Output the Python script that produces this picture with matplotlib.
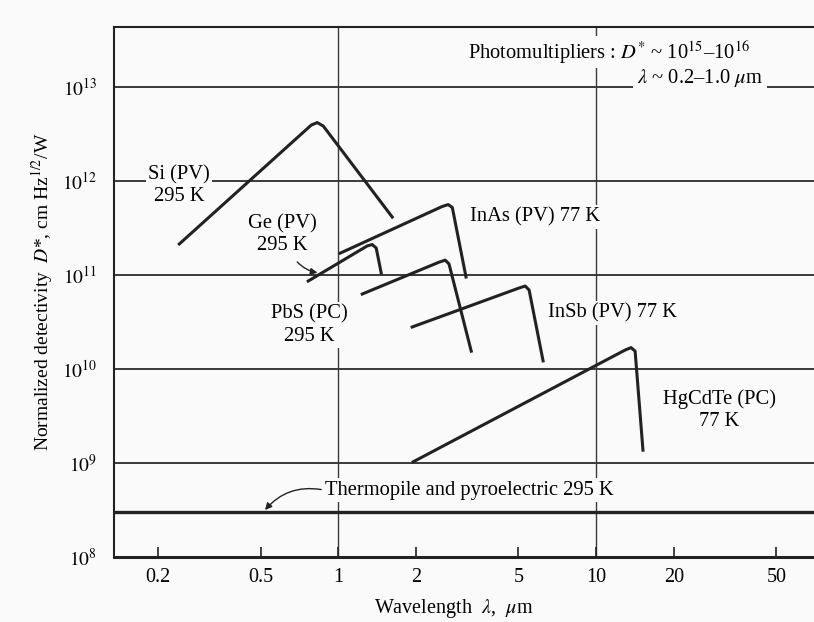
import math
import matplotlib
matplotlib.use("Agg")
import matplotlib.pyplot as plt
from matplotlib.ticker import FixedLocator, FuncFormatter, NullLocator

plt.rcParams['font.family'] = ['Liberation Serif', 'DejaVu Serif']
plt.rcParams['mathtext.fontset'] = 'stix'

# wavelength (um) / detectivity D* (cm Hz^1/2 / W)
si_wl = [0.242, 0.786, 0.829, 0.875, 1.62]
si_d = [2.14e11, 3.94e12, 4.19e12, 3.85e12, 4.14e11]

ge_wl = [0.765, 1.295, 1.354, 1.404, 1.468]
ge_d = [8.63e10, 2.04e11, 2.11e11, 1.94e11, 1.05e11]

inas_wl = [1.018, 2.53, 2.67, 2.77, 3.13]
inas_d = [1.71e11, 5.36e11, 5.62e11, 5.23e11, 9.53e10]

pbs_wl = [1.239, 2.46, 2.60, 2.69, 3.28]
pbs_d = [6.28e10, 1.37e11, 1.44e11, 1.31e11, 1.55e10]

insb_wl = [1.935, 5.03, 5.31, 5.50, 6.23]
insb_d = [2.80e10, 7.28e10, 7.64e10, 6.92e10, 1.22e10]

hgcdte_wl = [1.953, 12.95, 13.67, 14.17, 15.2]
hgcdte_d = [1.03e9, 1.59e10, 1.69e10, 1.55e10, 1.37e9]

thermopile_d = 3.0e8

xticks = [0.2, 0.5, 1, 2, 5, 10, 20, 50]
xticklabels = ['0.2', '0.5', '1', '2', '5', '10', '20', '50']
ydecades = [8, 9, 10, 11, 12, 13]

bg = '#fafafa'
ink = '#222222'

fig = plt.figure(figsize=(8.14, 6.22), dpi=100, facecolor=bg)
ax = fig.add_axes([0.140, 0.1045, 0.860, 0.852], facecolor=bg)
ax.set_xscale('log')
ax.set_yscale('log')
ax.set_xlim(0.135, 70)
ax.set_ylim(1e8, 4.35e13)

# grid: horizontal at each decade, vertical only at 1 and 10
for e in ydecades[1:]:
    ax.axhline(10.0 ** e, color='#3a3a3a', lw=1.4, zorder=1)
for v in [1, 10]:
    ax.axvline(v, color='#3a3a3a', lw=1.0, zorder=1)

ax.axhline(thermopile_d, color=ink, lw=2.4, zorder=2)

for wl, d in [(si_wl, si_d), (ge_wl, ge_d), (inas_wl, inas_d),
              (pbs_wl, pbs_d), (insb_wl, insb_d), (hgcdte_wl, hgcdte_d)]:
    ax.plot(wl, d, color=ink, lw=2.2, solid_joinstyle='round', zorder=2)

box = dict(facecolor=bg, edgecolor='none', pad=1.5)
fs = 14.8

ax.text(0.242, 9.0e11, 'Si (PV)\n295 K', ha='center', va='center', fontsize=fs, bbox=box)
ax.text(0.606, 2.7e11, 'Ge (PV)\n295 K', ha='center', va='center', fontsize=fs, bbox=box)
ax.annotate('', xy=(0.852, 1.05e11), xytext=(0.682, 1.45e11),
            arrowprops=dict(arrowstyle='-|>', color=ink, lw=1.0, mutation_scale=10,
                            connectionstyle='arc3,rad=0.2'))
ax.text(3.25, 4.14e11, 'InAs (PV) 77 K', ha='left', va='center', fontsize=fs, bbox=box)
ax.text(0.772, 2.94e10, 'PbS (PC)\n295 K', ha='center', va='center', fontsize=fs, bbox=box)
ax.text(6.52, 3.94e10, 'InSb (PV) 77 K', ha='left', va='center', fontsize=fs, bbox=box)
ax.text(30.0, 3.66e9, 'HgCdTe (PC)\n77 K', ha='center', va='center', fontsize=fs, bbox=box)
ax.text(0.89, 5.16e8, 'Thermopile and pyroelectric 295 K', ha='left', va='center',
        fontsize=fs, bbox=box)
ax.annotate('', xy=(0.512, thermopile_d), xytext=(0.88, 5.16e8),
            arrowprops=dict(arrowstyle='-|>', color=ink, lw=1.0, mutation_scale=10,
                            connectionstyle='arc3,rad=0.3'))
ax.text(3.19, 2.36e13, r'Photomultipliers : $D^{*}$ ~ 10$^{15}$–10$^{16}$',
        ha='left', va='center', fontsize=fs, bbox=box)
ax.text(14.4, 1.25e13, r'$\lambda$ ~ 0.2–1.0 $\mu$m', ha='left', va='center',
        fontsize=fs, bbox=dict(facecolor=bg, edgecolor='none', pad=3))

# axes frame
ax.spines['right'].set_visible(False)
ax.spines['top'].set_linewidth(1.5)
ax.spines['left'].set_linewidth(1.5)
ax.spines['bottom'].set_linewidth(2.2)
for s in ax.spines.values():
    s.set_color(ink)

ax.xaxis.set_major_locator(FixedLocator(xticks))
ax.xaxis.set_major_formatter(FuncFormatter(
    lambda v, p: xticklabels[xticks.index(v)] if v in xticks else ''))
ax.xaxis.set_minor_locator(NullLocator())
ax.yaxis.set_major_locator(FixedLocator([10.0 ** e for e in ydecades]))
ax.yaxis.set_major_formatter(FuncFormatter(lambda v, p: r'$10^{%d}$' % round(math.log10(v))))
ax.yaxis.set_minor_locator(NullLocator())
ax.tick_params(axis='x', direction='in', length=7, width=1.2, color=ink,
               labelsize=14.5, pad=8)
ax.tick_params(axis='y', length=0, labelsize=14, pad=12)

ax.set_xlabel(r'Wavelength  $\lambda$,  $\mu$m', fontsize=14.5)
ax.xaxis.set_label_coords(0.486, -0.075)
ax.set_ylabel(r'Normalized detectivity  $D$*, cm Hz$^{1/2}$/W', fontsize=14)
ax.yaxis.set_label_coords(-0.084, 0.5)

fig.savefig('out.png', dpi=100, facecolor=bg)
